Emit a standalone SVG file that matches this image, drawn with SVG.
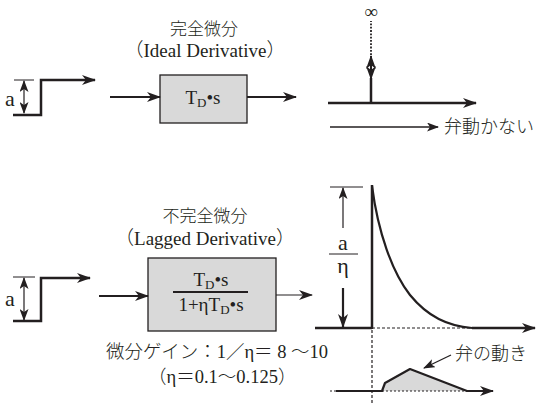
<svg xmlns="http://www.w3.org/2000/svg" width="537" height="403" viewBox="0 0 537 403">
<defs>
<style>
.t{font-family:"Liberation Serif","Noto Sans CJK JP",serif;fill:#231f20}
.j{font-family:"Noto Sans CJK JP",sans-serif;fill:#231f20;font-weight:300}
.m{font-family:"Liberation Serif","Noto Sans CJK JP",serif;fill:#231f20;font-weight:300}
.ln{stroke:#231f20;fill:none}
.box{fill:#d9d9d9;stroke:#231f20;stroke-width:1.3}
</style>
<marker id="ah" markerUnits="userSpaceOnUse" markerWidth="14" markerHeight="10" refX="13" refY="5" orient="auto-start-reverse" viewBox="0 0 14 10">
<path d="M0,0 L14,5 L0,10 L4,5 z" fill="#231f20"/>
</marker>
<marker id="as" markerUnits="userSpaceOnUse" markerWidth="12" markerHeight="9" refX="11" refY="4.5" orient="auto-start-reverse" viewBox="0 0 12 9">
<path d="M0,0 L12,4.5 L0,9 L3,4.5 z" fill="#231f20"/>
</marker>
</defs>

<g id="title-ideal">
<text class="j" x="204" y="35" font-size="17" text-anchor="middle">完全微分</text>
<text class="m" x="205" y="57" font-size="19" text-anchor="middle">（Ideal Derivative）</text>
</g>

<g id="step-ideal">
<line class="ln" x1="14" y1="80" x2="34" y2="80" stroke-width="1"/>
<line class="ln" x1="24" y1="81" x2="24" y2="113" stroke-width="1.2" marker-start="url(#as)" marker-end="url(#as)"/>
<text class="t" x="5" y="106" font-size="22">a</text>
<path class="ln" d="M13,115 H41 V80 H95" stroke-width="2.5" marker-end="url(#ah)"/>
</g>

<g id="box-ideal">
<rect class="box" x="160" y="75" width="87" height="48"/>
<text class="t" x="203" y="104" font-size="19" text-anchor="middle">T<tspan font-size="13" dy="3">D</tspan><tspan dy="-3">•s</tspan></text>
</g>

<g id="impulse">
<line class="ln" x1="328" y1="103" x2="476" y2="103" stroke-width="2.5" marker-end="url(#ah)"/>
<line class="ln" x1="371" y1="103" x2="371" y2="78" stroke-width="2.5"/>
<line class="ln" x1="371" y1="56" x2="371" y2="79" stroke-width="2" marker-start="url(#ah)" marker-end="url(#ah)"/>
<line class="ln" x1="371" y1="55" x2="371" y2="21" stroke-width="1.8" stroke-dasharray="1.8,1.5"/>
<text class="t" x="371" y="18" font-size="19" text-anchor="middle">∞</text>
</g>

<g id="no-move">
<line class="ln" x1="330" y1="127" x2="438" y2="127" stroke-width="1.3" marker-end="url(#as)"/>
<text class="j" x="444" y="133" font-size="18">弁動かない</text>
</g>

<g id="title-lagged">
<text class="j" x="205" y="222" font-size="17" text-anchor="middle">不完全微分</text>
<text class="m" x="205" y="245" font-size="19" text-anchor="middle">（Lagged Derivative）</text>
</g>

<g id="step-lagged">
<line class="ln" x1="13" y1="277" x2="35" y2="277" stroke-width="1"/>
<line class="ln" x1="24" y1="278" x2="24" y2="320" stroke-width="1.2" marker-start="url(#as)" marker-end="url(#as)"/>
<text class="t" x="5" y="306" font-size="22">a</text>
<path class="ln" d="M13,321 H41 V278 H90" stroke-width="2.5" marker-end="url(#ah)"/>
</g>

<g id="box-lagged">
<rect class="box" x="148" y="258" width="128" height="73"/>
<text class="t" x="211" y="286" font-size="19" text-anchor="middle">T<tspan font-size="13" dy="3">D</tspan><tspan dy="-3">•s</tspan></text>
<line class="ln" x1="173" y1="292" x2="248" y2="292" stroke-width="2"/>
<text class="t" x="211" y="311" font-size="19" text-anchor="middle">1+ηT<tspan font-size="13" dy="3">D</tspan><tspan dy="-3">•s</tspan></text>
</g>

<g id="lagged-response">
<line class="ln" x1="315" y1="328" x2="372" y2="328" stroke-width="2.5"/>
<line class="ln" x1="372" y1="328" x2="472" y2="328" stroke-width="1.2" stroke-dasharray="3,2"/>
<line class="ln" x1="472" y1="328" x2="535" y2="328" stroke-width="2.5" marker-end="url(#ah)"/>
<line class="ln" x1="372" y1="329" x2="372" y2="185" stroke-width="2.5"/>
<path class="ln" stroke-width="2.2" d="M372,186 C378,232 392,272 410,295 C428,317 448,326 472,328"/>
<line class="ln" x1="330" y1="187" x2="363" y2="187" stroke-width="1"/>
<line class="ln" x1="343" y1="228" x2="343" y2="188" stroke-width="1.2" marker-end="url(#as)"/>
<text class="t" x="343" y="250" font-size="22" text-anchor="middle">a</text>
<line class="ln" x1="329" y1="254" x2="358" y2="254" stroke-width="1"/>
<text class="t" x="343" y="273" font-size="22" text-anchor="middle">η</text>
<line class="ln" x1="343" y1="288" x2="343" y2="327" stroke-width="2.2" marker-end="url(#ah)"/>
<line class="ln" x1="372" y1="330" x2="372" y2="403" stroke-width="1.2" stroke-dasharray="3,2"/>
</g>

<g id="valve">
<path d="M382,391 L385,383 L410,369 L467,391 Z" fill="#d9d9d9"/>
<line class="ln" x1="330" y1="391" x2="336" y2="391" stroke-width="1.2" stroke-dasharray="2,2"/>
<line class="ln" x1="382" y1="391" x2="467" y2="391" stroke-width="1.2" stroke-dasharray="2,2"/>
<path class="ln" d="M336,391 H382 L385,383 L410,369 L467,391 H493" stroke-width="2.2" stroke-linejoin="round" marker-end="url(#ah)"/>
<text class="j" x="455" y="360" font-size="18">弁の動き</text>
<line class="ln" x1="451" y1="355" x2="424" y2="368" stroke-width="1.3" marker-end="url(#as)"/>
</g>

<g id="gain-text">
<text class="m" x="106" y="358" font-size="18.5">微分ゲイン：1／η＝ 8 ～10</text>
<text class="m" x="148" y="383" font-size="18.5">（η＝0.1～0.125）</text>
</g>

<g id="connectors">
<line class="ln" x1="110" y1="97" x2="160" y2="97" stroke-width="2" marker-end="url(#ah)"/>
<line class="ln" x1="247" y1="97" x2="296" y2="97" stroke-width="2" marker-end="url(#ah)"/>
<line class="ln" x1="99" y1="296" x2="148" y2="296" stroke-width="2" marker-end="url(#ah)"/>
<line class="ln" x1="276" y1="295" x2="312" y2="295" stroke-width="1.2" marker-end="url(#ah)"/>
</g>
</svg>
